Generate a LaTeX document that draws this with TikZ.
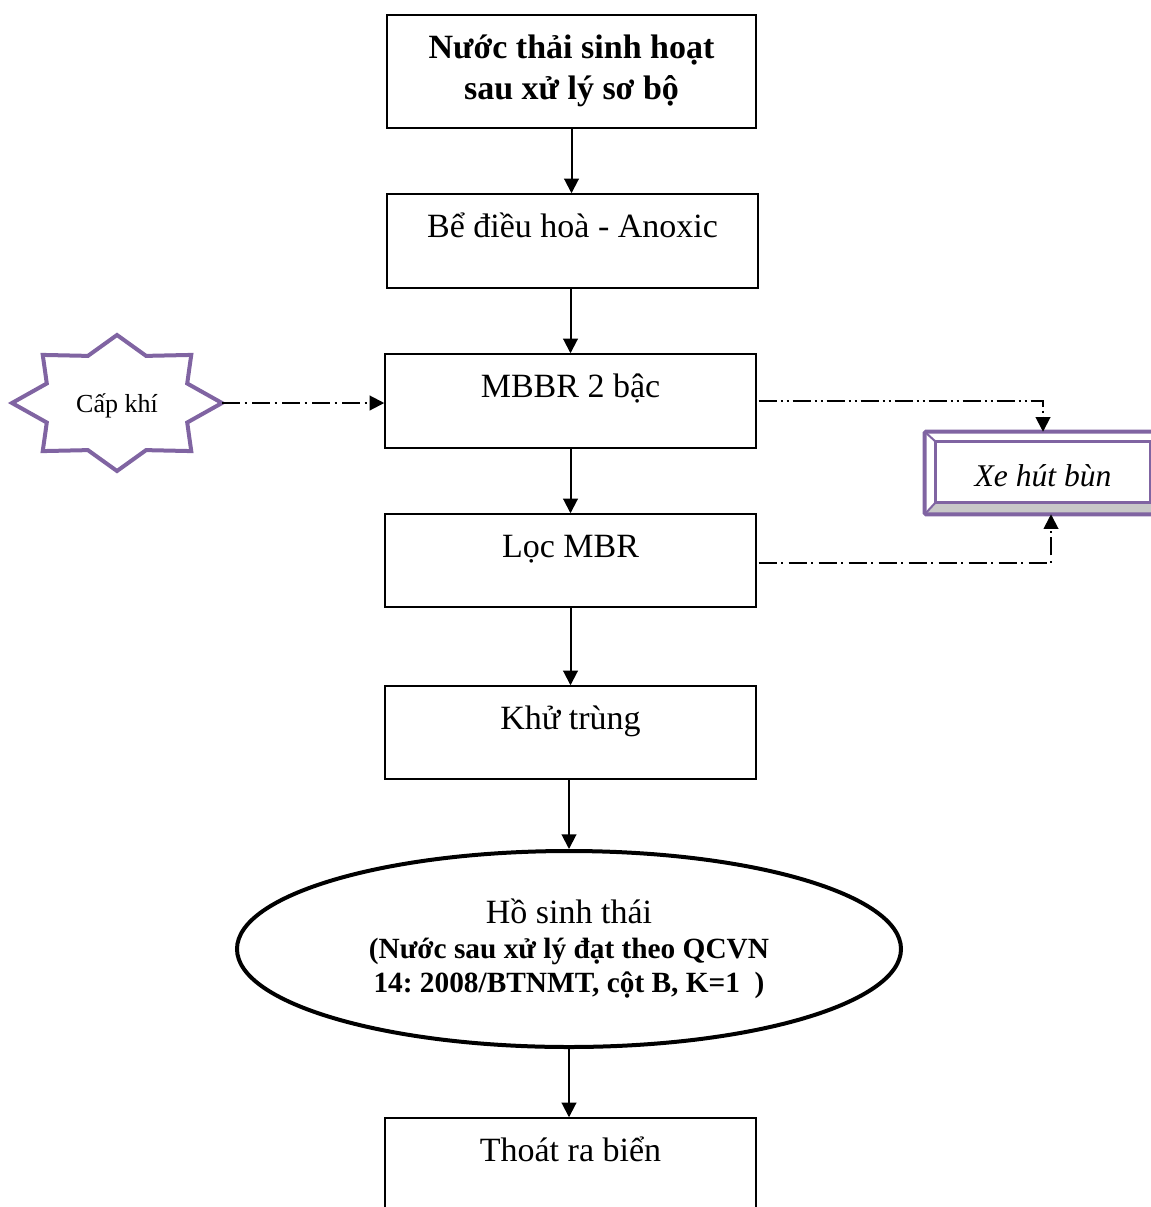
\documentclass[tikz,border=0pt]{standalone}
\usepackage{fontspec}
\setmainfont{Liberation Serif}
\usetikzlibrary{arrows.meta,shapes.geometric}
\definecolor{vio}{HTML}{8064A2}
\definecolor{bevgray}{HTML}{C8C8C8}
\begin{document}
\frenchspacing
\begin{tikzpicture}[x=0.75pt,y=-0.75pt,
  procbox/.style={draw, line width=1.1pt, minimum width=278.25pt, minimum height=70.5pt,
    inner sep=0pt, font=\fontsize{25.5}{30}\selectfont, text height=17pt, text depth=22.25pt},
  flow/.style={-{Triangle[length=11pt,width=11pt]}, line width=1.5pt},
  ddot/.style={flow, dash pattern=on 13.5pt off 3.5pt on 1.5pt off 4pt},
  dddot/.style={flow, dash pattern=on 13.5pt off 3pt on 1.5pt off 3pt on 1.5pt off 3pt},
  starline/.style={draw=vio, line width=3pt, fill=white, line join=miter},
]
\useasboundingbox (0,0) rectangle (1150,1207);

% main flow
\node[draw, line width=1.1pt, minimum width=276.75pt, minimum height=84.75pt, inner sep=0pt,
      align=center, font=\bfseries\fontsize{25.5}{30.75}\selectfont] (b1) at (571.5,71.5)
      {Nước thải sinh hoạt\\sau xử lý sơ bộ\rule[-6pt]{0pt}{6pt}};
\node[procbox] (b2) at (572.5,241) {Bể điều hoà - Anoxic};
\node[procbox] (b3) at (570.5,401) {MBBR 2 bậc};
\node[procbox, minimum height=69.75pt] (b4) at (570.5,560.5) {Lọc MBR};
\node[procbox, minimum height=69.75pt] (b5) at (570.5,732.5) {Khử trùng};
\node[ellipse, draw, line width=3pt, minimum width=498pt, minimum height=147pt, inner sep=0pt,
      align=center, font=\fontsize{22}{25.8}\selectfont] (ell) at (569,949)
      {{\fontsize{25.5}{27}\selectfont Hồ sinh thái}\\
       \textbf{(Nước sau xử lý đạt theo QCVN}\\
       \textbf{14: 2008/BTNMT, cột B, K=1~~)}\rule[-3pt]{0pt}{0pt}};
\node[procbox] (b6) at (570.5,1165) {Thoát ra biển};

\draw[flow] (b1.south) -- (b1.south |- b2.north);
\draw[flow] (b2.south -| b3.north) -- (b3.north);
\draw[flow] (b3.south) -- (b4.north);
\draw[flow] (b4.south) -- (b5.north);
\draw[flow] (b5.south -| ell.north) -- (ell.north);
\draw[flow] (ell.south) -- (ell.south |- b6.north);

% star "Cấp khí"
\coordinate (sc) at (117,403);
\draw[starline] ([shift={(90:105 and 68)}]sc) -- ([shift={(67.5:76 and 51)}]sc)
  -- ([shift={(45:105 and 68)}]sc) -- ([shift={(22.5:76 and 51)}]sc)
  -- ([shift={(0:105 and 68)}]sc) -- ([shift={(-22.5:76 and 51)}]sc)
  -- ([shift={(-45:105 and 68)}]sc) -- ([shift={(-67.5:76 and 51)}]sc)
  -- ([shift={(-90:105 and 68)}]sc) -- ([shift={(-112.5:76 and 51)}]sc)
  -- ([shift={(-135:105 and 68)}]sc) -- ([shift={(-157.5:76 and 51)}]sc)
  -- ([shift={(180:105 and 68)}]sc) -- ([shift={(157.5:76 and 51)}]sc)
  -- ([shift={(135:105 and 68)}]sc) -- ([shift={(112.5:76 and 51)}]sc) -- cycle;
\coordinate (starR) at ([shift={(0:105 and 68)}]sc);
\node[font=\fontsize{19.5}{23}\selectfont, inner sep=0pt] (cap) at (117,406) {Cấp khí};

% sludge truck box (bevel)
\node[minimum width=177pt, minimum height=61.5pt, inner sep=0pt] (xe) at (1043,473) {};
\fill[white] (xe.north west) rectangle (xe.south east);
\fill[bevgray] (xe.south west) -- ([shift={(11,-12)}]xe.south west)
  -- ([shift={(-11,-12)}]xe.south east) -- (xe.south east) -- cycle;
\draw[vio, line width=2.2pt] ([shift={(11,10)}]xe.north west) rectangle ([shift={(-11,-12)}]xe.south east);
\draw[vio, line width=1.5pt] (xe.north west) -- ([shift={(11,10)}]xe.north west);
\draw[vio, line width=1.5pt] (xe.south west) -- ([shift={(11,-12)}]xe.south west);
\draw[vio, line width=3pt, rounded corners=1pt] (xe.north west) rectangle (xe.south east);
\node[font=\itshape\fontsize{23.7}{28}\selectfont, inner sep=0pt] (xet) at ([yshift=-2pt]xe.center) {Xe hút bùn};

% dash-dot connectors
\draw[ddot] (starR) -- (starR -| b3.west);
\draw[dddot] ([xshift=1.5pt]b3.east) -| (xe.north);
\draw[ddot] ([xshift=1.5pt,yshift=-1.9pt]b4.east) -| ([xshift=6pt]xe.south);
\end{tikzpicture}
\end{document}
